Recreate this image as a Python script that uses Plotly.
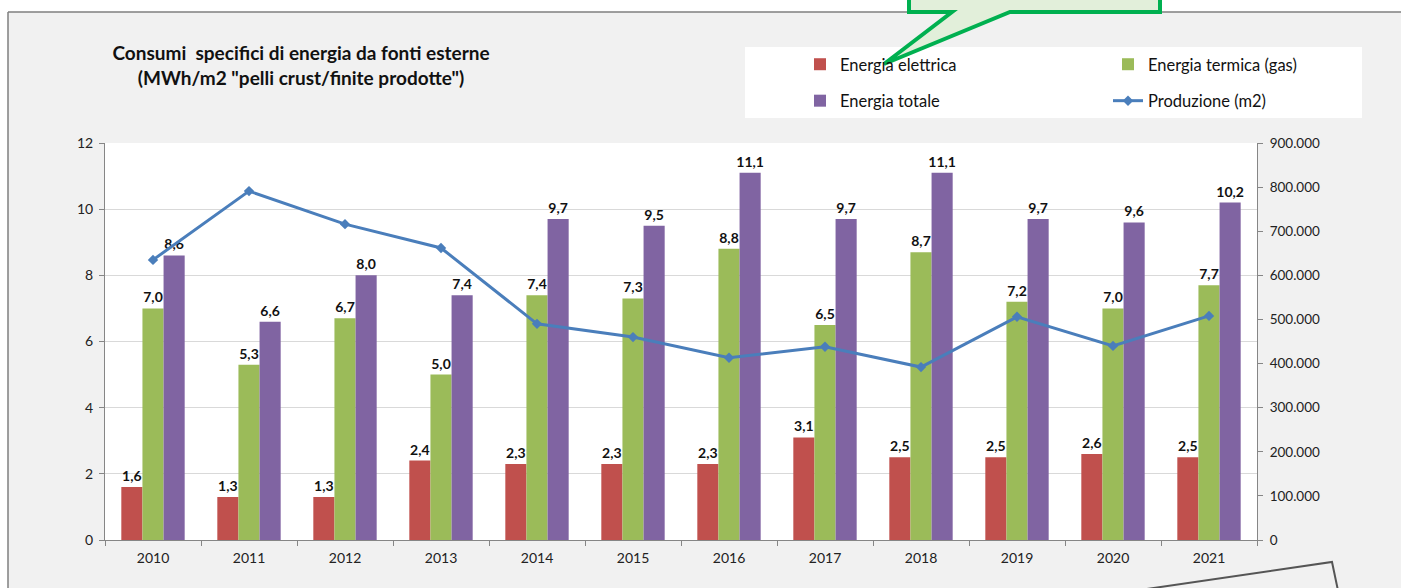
import plotly.graph_objects as go

years = ["2010", "2011", "2012", "2013", "2014", "2015", "2016", "2017", "2018", "2019", "2020", "2021"]
energia_elettrica = [1.6, 1.3, 1.3, 2.4, 2.3, 2.3, 2.3, 3.1, 2.5, 2.5, 2.6, 2.5]
energia_termica = [7.0, 5.3, 6.7, 5.0, 7.4, 7.3, 8.8, 6.5, 8.7, 7.2, 7.0, 7.7]
energia_totale = [8.6, 6.6, 8.0, 7.4, 9.7, 9.5, 11.1, 9.7, 11.1, 9.7, 9.6, 10.2]
produzione = [635000, 791000, 716000, 662000, 490000, 460000, 413000, 438000, 392000, 506000, 440000, 508000]

# plot-area geometry (pixels)
L, T, W, H = 105, 143, 1152, 397
FIG_W, FIG_H = 1401, 588


def px(x):
    return (x - L) / W


def py(y):
    return (T + H - y) / H


FONT = "Lato, 'Open Sans', sans-serif"
RED, GREEN, PURPLE, BLUE = "#C0504D", "#9BBB59", "#8064A2", "#4A7EBB"

fig = go.Figure()

bar_common = dict(
    texttemplate="%{y:.1f}",
    textposition="outside",
    constraintext="none",
    cliponaxis=False,
    textfont=dict(family=FONT, size=14, color="#111111", weight="bold"),
    marker_line_width=0,
)

fig.add_trace(go.Bar(x=years, y=energia_elettrica, name="Energia elettrica",
                     marker_color=RED, legend="legend", legendgroup="a", **bar_common))
fig.add_trace(go.Bar(x=years, y=energia_termica, name="Energia termica (gas)",
                     marker_color=GREEN, legend="legend2", legendgroup="b", **bar_common))
fig.add_trace(go.Bar(x=years, y=energia_totale, name="Energia totale",
                     marker_color=PURPLE, legend="legend", legendgroup="c", **bar_common))
fig.add_trace(go.Scatter(x=years, y=produzione, name="Produzione (m2)", yaxis="y2",
                         mode="lines+markers", line=dict(color=BLUE, width=3),
                         marker=dict(symbol="diamond", size=8, color=BLUE),
                         legend="legend2", legendgroup="d"))

legend_common = dict(
    orientation="v",
    bgcolor="rgba(0,0,0,0)",
    font=dict(family=FONT, size=16.5, color="#111111"),
    tracegroupgap=12,
    traceorder="grouped",
    xanchor="left",
    yanchor="top",
)

shapes = [
    # white strips outside the frame
    dict(type="rect", xref="paper", yref="paper", x0=px(0), x1=px(FIG_W), y0=py(12), y1=py(0),
         fillcolor="white", line_width=0, layer="below"),
    dict(type="rect", xref="paper", yref="paper", x0=px(0), x1=px(8), y0=py(FIG_H), y1=py(12),
         fillcolor="white", line_width=0, layer="below"),
    # frame lines
    dict(type="line", xref="paper", yref="paper", x0=px(8), x1=px(FIG_W), y0=py(12), y1=py(12),
         line=dict(color="#7f7f7f", width=1.5)),
    dict(type="line", xref="paper", yref="paper", x0=px(8), x1=px(8), y0=py(12), y1=py(FIG_H),
         line=dict(color="#7f7f7f", width=1.5)),
    # legend white box
    dict(type="rect", xref="paper", yref="paper", x0=px(745), x1=px(1362), y0=py(118), y1=py(47),
         fillcolor="white", line_width=0, layer="below"),
    # green callout
    dict(type="path", xref="paper", yref="paper",
         path=("M {a},{b} L {c},{b} L {c},{d} L {e},{d} L {f},{g} L {h},{d} L {a},{d} Z").format(
             a=px(909), b=py(-10), c=px(1160), d=py(12), e=px(1010), f=px(884), g=py(64), h=px(952)),
         fillcolor="#E2EFDA", line=dict(color="#00B050", width=4), layer="above"),
    # sketch in bottom-right corner
    dict(type="path", xref="paper", yref="paper",
         path="M {a},{b} L {c},{d} L {e},{f}".format(
             a=px(1140), b=py(590), c=px(1332), d=py(562), e=px(1340), f=py(600)),
         line=dict(color="#555555", width=2), layer="above"),
]

fig.update_layout(
    width=FIG_W, height=FIG_H,
    margin=dict(l=L, r=FIG_W - L - W, t=T, b=FIG_H - T - H, autoexpand=False),
    paper_bgcolor="#F1F1F1",
    plot_bgcolor="white",
    separators=",.",
    barmode="group",
    bargap=0.34,
    bargroupgap=0,
    font=dict(family=FONT, size=13.5, color="#222222"),
    title=dict(
        text="Consumi  specifici di energia da fonti esterne<br>(MWh/m2 \"pelli crust/finite prodotte\")",
        x=301 / FIG_W, xref="container", xanchor="center",
        y=1 - 60 / FIG_H, yref="container", yanchor="middle",
        font=dict(family=FONT, size=19, color="#111111", weight="bold"),
    ),
    xaxis=dict(
        type="category", range=[-0.5, 11.5],
        showline=True, linecolor="#868686", linewidth=1,
        ticks="outside", tickson="boundaries", ticklen=5, tickcolor="#868686",
        ticklabelstandoff=5,
        tickfont=dict(family=FONT, size=14, color="#222222"),
        showgrid=False,
    ),
    yaxis=dict(
        range=[0, 12], dtick=2,
        showline=True, linecolor="#868686", linewidth=1,
        ticks="outside", ticklen=5, tickcolor="#868686",
        ticklabelstandoff=3,
        showgrid=True, gridcolor="#D9D9D9", gridwidth=1,
        zeroline=False,
        tickfont=dict(family=FONT, size=14, color="#222222"),
    ),
    yaxis2=dict(
        range=[0, 900000], dtick=100000, tickformat=",d",
        overlaying="y", side="right",
        showline=True, linecolor="#868686", linewidth=1,
        ticks="outside", ticklen=5, tickcolor="#868686",
        ticklabelstandoff=4,
        showgrid=False, zeroline=False,
        tickfont=dict(family=FONT, size=13.5, color="#222222"),
    ),
    legend=dict(x=px(800), y=py(47), **legend_common),
    legend2=dict(x=px(1108), y=py(47), **legend_common),
    shapes=shapes,
)

fig.write_html("out.html")
